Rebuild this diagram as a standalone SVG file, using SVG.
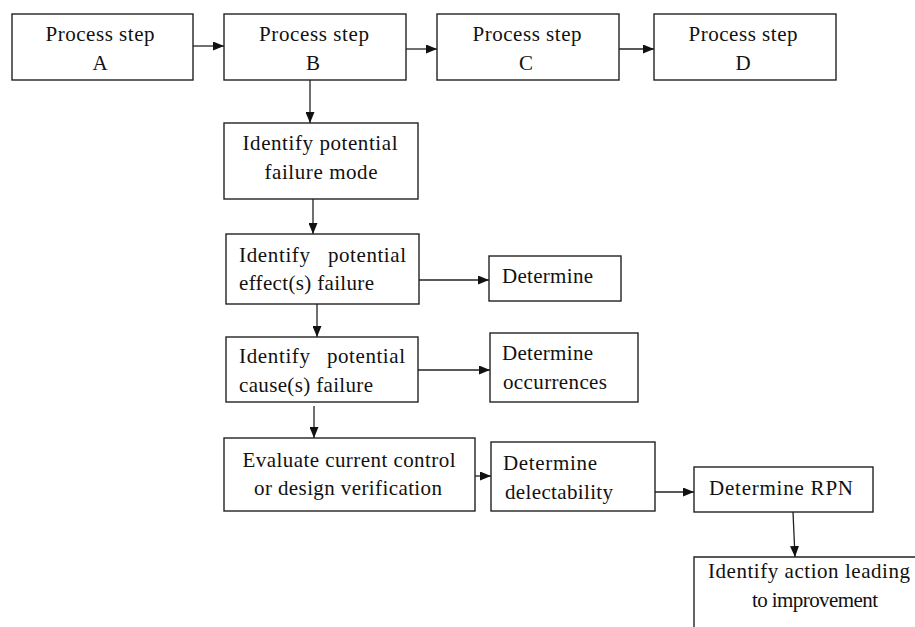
<svg xmlns="http://www.w3.org/2000/svg" width="915" height="627" viewBox="0 0 915 627">
<style>
.box{fill:#fff;stroke:#222;stroke-width:1.4}
.t{font-family:"Liberation Serif","Times New Roman",serif;font-size:21px;fill:#111}
.m{text-anchor:middle}
.e{text-anchor:end}
.c{stroke:#222;stroke-width:1.3;fill:none;marker-end:url(#ah)}
</style>
<defs>
<marker id="ah" markerUnits="userSpaceOnUse" markerWidth="11" markerHeight="9" refX="11" refY="4.5" orient="auto">
<path d="M0,0 L11,4.5 L0,9 z" fill="#111"/>
</marker>
</defs>
<rect width="915" height="627" fill="#fff"/>
<g id="connectors">
<line class="c" x1="193" y1="46" x2="224" y2="46"/>
<line class="c" x1="406" y1="49" x2="437" y2="49"/>
<line class="c" x1="619" y1="49" x2="654" y2="49"/>
<line class="c" x1="310" y1="80" x2="310" y2="123"/>
<line class="c" x1="313" y1="199" x2="313" y2="234"/>
<line class="c" x1="419" y1="280" x2="489" y2="280"/>
<line class="c" x1="317" y1="304" x2="317" y2="337"/>
<line class="c" x1="418" y1="370" x2="490" y2="370"/>
<line class="c" x1="314" y1="406" x2="314" y2="438"/>
<line class="c" x1="475" y1="476" x2="491" y2="476"/>
<line class="c" x1="654" y1="492" x2="694" y2="492"/>
<line class="c" x1="793" y1="512" x2="795" y2="557"/>
</g>
<g id="stepA">
<rect class="box" x="12" y="14" width="181" height="66"/>
<text class="t m" x="100" y="41" textLength="109">Process step</text>
<text class="t m" x="100" y="70">A</text>
</g>
<g id="stepB">
<rect class="box" x="224" y="14" width="182" height="66"/>
<text class="t m" x="314" y="41" textLength="110">Process step</text>
<text class="t m" x="313" y="70">B</text>
</g>
<g id="stepC">
<rect class="box" x="437" y="14" width="182" height="66"/>
<text class="t m" x="527" y="41" textLength="109">Process step</text>
<text class="t m" x="526" y="70">C</text>
</g>
<g id="stepD">
<rect class="box" x="654" y="14" width="182" height="66"/>
<text class="t m" x="743" y="41" textLength="109">Process step</text>
<text class="t m" x="743" y="70">D</text>
</g>
<g id="failureMode">
<rect class="box" x="224" y="123" width="194" height="76"/>
<text class="t m" x="320" y="150" textLength="155">Identify potential</text>
<text class="t m" x="321" y="179" textLength="113">failure mode</text>
</g>
<g id="effect">
<rect class="box" x="226" y="234" width="193" height="70"/>
<text class="t" x="239" y="262" textLength="71">Identify</text>
<text class="t e" x="406" y="262" textLength="78">potential</text>
<text class="t" x="239" y="290" textLength="135">effect(s) failure</text>
</g>
<g id="determine">
<rect class="box" x="489" y="256" width="132" height="45"/>
<text class="t" x="502" y="283" textLength="91">Determine</text>
</g>
<g id="cause">
<rect class="box" x="226" y="337" width="192" height="65"/>
<text class="t" x="239" y="363" textLength="71">Identify</text>
<text class="t e" x="405" y="363" textLength="78">potential</text>
<text class="t" x="239" y="392" textLength="134">cause(s) failure</text>
</g>
<g id="occurrences">
<rect class="box" x="490" y="333" width="148" height="69"/>
<text class="t" x="502" y="360" textLength="91">Determine</text>
<text class="t" x="503" y="389" textLength="104">occurrences</text>
</g>
<g id="evaluate">
<rect class="box" x="224" y="438" width="251" height="73"/>
<text class="t m" x="349" y="467" textLength="213">Evaluate current control</text>
<text class="t m" x="348" y="495" textLength="188">or design verification</text>
</g>
<g id="delectability">
<rect class="box" x="491" y="442" width="164" height="69"/>
<text class="t" x="503" y="470" textLength="94">Determine</text>
<text class="t" x="505" y="499" textLength="108">delectability</text>
</g>
<g id="rpn">
<rect class="box" x="694" y="467" width="179" height="45"/>
<text class="t" x="709" y="495" textLength="144">Determine RPN</text>
</g>
<g id="action">
<path class="box" d="M694,627 L694,557 L916,557" fill="none"/>
<text class="t" x="708" y="578" textLength="202">Identify action leading</text>
<text class="t" x="752" y="607" textLength="126">to improvement</text>
</g>
</svg>
